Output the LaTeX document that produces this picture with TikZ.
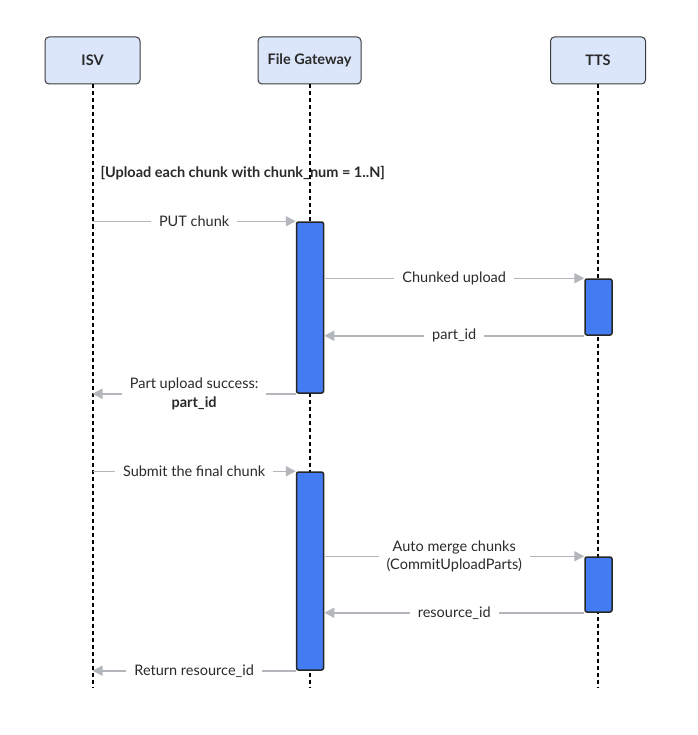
\documentclass[tikz,border=0pt]{standalone}
\usepackage{fontspec}
\setmainfont{Lato}
\usepackage{xcolor}
\usetikzlibrary{positioning, arrows.meta}

\definecolor{actorfill}{HTML}{DCE6FB}
\definecolor{actorline}{HTML}{3C3C3C}
\definecolor{actblue}{HTML}{437BF2}
\definecolor{msggray}{HTML}{B3B7BB}
\definecolor{txtgray}{HTML}{2A2A2A}

\begin{document}
\begin{tikzpicture}[x=1pt, y=-1pt, >={Triangle[length=10pt,width=10pt]},
    font=\fontsize{14.5}{18.5}\selectfont,
    actor/.style={draw=actorline, fill=actorfill, rounded corners=4pt, line width=1pt, minimum width=95pt, minimum height=47pt, font=\fontsize{14.5}{18.5}\selectfont\bfseries, text=txtgray},
    act/.style={draw=black!85, fill=actblue, rounded corners=2pt, line width=1.5pt, minimum width=27pt, inner sep=0pt},
    lifeline/.style={draw=black, line width=2pt, dash pattern=on 4pt off 3pt},
    msg/.style={->, draw=msggray, line width=1.5pt},
    lbl/.style={fill=white, text=txtgray, inner xsep=8pt, inner ysep=1pt, align=center}]

    \fill[white] (0,0) rectangle (697,735);

    % participants
    \node [actor] (isv) at (92.5, 60.5) {ISV};
    \node [actor, minimum width=103pt] (fgw) at (309.5, 60.5) {File Gateway};
    \node [actor] (tts) at (598, 60.5) {TTS};

    \coordinate (isvend) at (92.5, 688);
    \coordinate (fgwend) at (309.5, 688);
    \coordinate (ttsend) at (598, 688);

    \draw [lifeline] (isv.south) -- (isvend);
    \draw [lifeline] (fgw.south) -- (fgwend);
    \draw [lifeline] (tts.south) -- (ttsend);

    \node [anchor=west, font=\fontsize{14.5}{18.5}\selectfont\bfseries, text=txtgray] (loop) at (97, 173) {[Upload each chunk with chunk\_num = 1..N]};

    % activations
    \node [act, minimum height=171pt] (fgact1) at (310, 307.5) {};
    \node [act, minimum height=56pt] (ttsact1) at (598.5, 307) {};
    \node [act, minimum height=198pt] (fgact2) at (310, 571) {};
    \node [act, minimum height=55pt] (ttsact2) at (598.5, 584.5) {};

    % messages
    \draw [msg] (isv.south |- fgact1.north) -- node[lbl] {PUT chunk} (fgact1.north west);
    \draw [msg] (fgact1.east |- ttsact1.north) -- node[lbl] {Chunked upload} (ttsact1.north west);
    \draw [msg] (ttsact1.south west) -- node[lbl] {part\_id} (fgact1.east |- ttsact1.south);
    \draw [msg] (fgact1.south west) -- node[lbl] {Part upload success:\\\textbf{part\_id}} (isv.south |- fgact1.south);
    \draw [msg] (isv.south |- fgact2.north) -- node[lbl] {Submit the final chunk} (fgact2.north west);
    \draw [msg] (fgact2.east |- ttsact2.north) -- node[lbl] {Auto merge chunks\\(CommitUploadParts)} (ttsact2.north west);
    \draw [msg] (ttsact2.south west) -- node[lbl] {resource\_id} (fgact2.east |- ttsact2.south);
    \draw [msg] (fgact2.south west) -- node[lbl] {Return resource\_id} (isv.south |- fgact2.south);
\end{tikzpicture}
\end{document}
